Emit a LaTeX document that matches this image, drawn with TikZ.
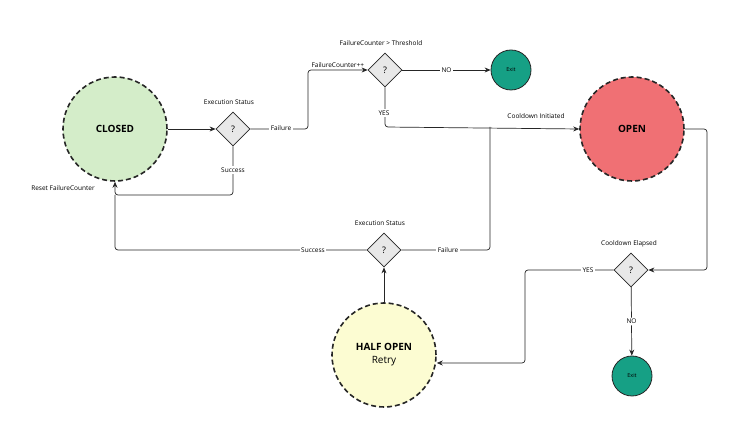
\documentclass[tikz,border=0pt]{standalone}
\usepackage{fontspec}
\setmainfont{Open Sans}
\usetikzlibrary{positioning, shapes.geometric, arrows.meta}

\definecolor{closedgreen}{HTML}{D4EDC9}
\definecolor{openred}{HTML}{F07074}
\definecolor{halfyellow}{HTML}{FCFCD2}
\definecolor{exitteal}{HTML}{16A085}
\definecolor{diamondgray}{HTML}{E8E8E8}

\tikzset{
  statenode/.style={circle, draw=black!85, line width=1.6pt, dash pattern=on 5pt off 3pt, minimum size=104pt, font=\fontsize{10}{12}\selectfont\bfseries},
  exitnode/.style={circle, draw=black!85, line width=0.8pt, fill=exitteal, minimum size=40pt, font=\fontsize{5.5}{6}\selectfont},
  decision/.style={diamond, draw=black!85, line width=0.8pt, fill=diamondgray, minimum size=34pt, inner sep=0pt, font=\fontsize{9}{10}\selectfont},
  lbl/.style={font=\fontsize{6.5}{8}\selectfont, fill=white, inner sep=1.5pt},
  flow/.style={draw=black!85, line width=0.7pt, rounded corners=3pt},
  arr/.style={flow, -{Stealth[length=6pt,width=5pt]}}
}

\begin{document}
\begin{tikzpicture}[x=1pt, y=-1pt]
\useasboundingbox[fill=white] (0,0) rectangle (750,427);

% states
\node[statenode, fill=closedgreen] (closed) at (115,129) {CLOSED};
\node[statenode, fill=openred] (open) at (632,129) {OPEN};
\node[statenode, fill=halfyellow, align=center] (half) at (384,355) {HALF OPEN\\[1pt]{\mdseries Retry}};

% decisions
\node[decision] (status1) at (233,129) {?};
\node[decision] (threshold) at (385,70) {?};
\node[decision] (elapsed) at (631,270) {?};
\node[decision] (status2) at (384,250) {?};

% exits
\node[exitnode] (exit1) at (511,70) {Exit};
\node[exitnode] (exit2) at (632,376) {Exit};

% captions
\node[lbl] (cap1) at (229,102) {Execution Status};
\node[lbl] (cap2) at (381,43) {FailureCounter > Threshold};
\node[lbl] (cap3) at (629,244) {Cooldown Elapsed};
\node[lbl] (cap4) at (380,223) {Execution Status};

% connectors
\draw[arr] (closed) -- (status1);
\draw[arr] (status1.east) -- (308,129) -- (308,70) -- (threshold.west)
  node[lbl, pos=0.5, above=1pt, fill=none] {FailureCounter++};
\node[lbl] at (281,128) {Failure};
\draw[arr] (threshold) -- (exit1) node[lbl, midway] {NO};
\draw[arr] (threshold.south) -- (385,127) -- (open.west);
\node[lbl] at (384,113) {YES};
\node[lbl, fill=none] at (536,116) {Cooldown Initiated};
\draw[arr] (status1.south) -- (233,195) -- (115,195) -- (closed.south);
\node[lbl] at (233,170) {Success};
\node[lbl, fill=none] at (63,188) {Reset FailureCounter};
\draw[arr] (open.east) -- (707,129) -- (707,270) -- (elapsed.east);
\draw[arr] (elapsed) -- (exit2) node[lbl, midway] {NO};
\draw[arr] (elapsed.west) -- (525,270) -- (525,363) -- (half.east |- 0,363);
\node[lbl] at (588,270) {YES};
\draw[arr] (half) -- (status2);
\draw[flow] (status2.east) -- (490,250) -- (490,127);
\node[lbl] at (448,250) {Failure};
\draw[flow] (status2.west) -- (115,250) -- (115,195);
\node[lbl] at (313,250) {Success};
\end{tikzpicture}
\end{document}
